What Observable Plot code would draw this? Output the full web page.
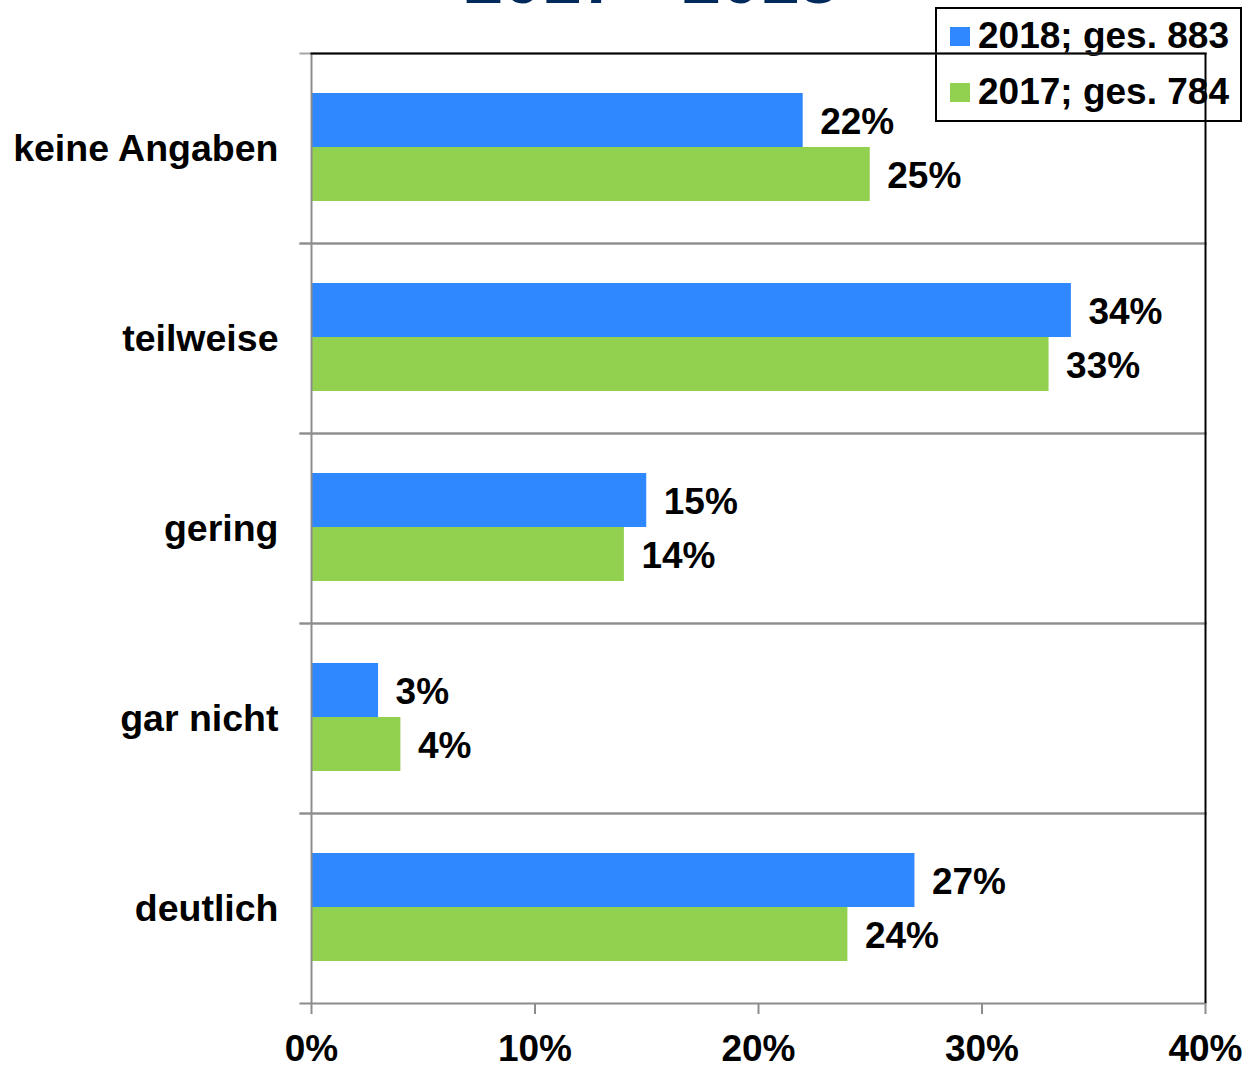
<!DOCTYPE html>
<html>
<head>
<meta charset="utf-8">
<script src="https://cdn.jsdelivr.net/npm/d3@7"></script>
<script src="https://cdn.jsdelivr.net/npm/@observablehq/plot@0.6"></script>
<style>
  html, body { margin: 0; padding: 0; background: white; overflow: hidden; }
  body { width: 1245px; height: 1065px; position: relative; font-family: "Liberation Sans", Arial, sans-serif; }
  #title { position: absolute; left: 0; width: 1302px; top: -56px; text-align: center; font-size: 70px; line-height: 70px; font-weight: bold; color: #002a5c; white-space: pre; }
  #legend { position: absolute; left: 935px; top: 7px; width: 303px; height: 111px; border: 2px solid #000; background: #fff; z-index: 0; }
  #legend .row { display: flex; align-items: center; height: 56px; }
  #legend .sw { width: 20px; height: 19px; margin-left: 13px; margin-right: 8px; }
  #legend .lab { font-size: 37px; font-weight: bold; color: #000; white-space: nowrap; }
  #chart { position: absolute; left: 0; top: 0; z-index: 1; }
</style>
</head>
<body>
<div id="title">2017 - 2018</div>
<div id="legend"></div>
<div id="chart"></div>
<script>
// ---- data ----
const categories = ["keine Angaben", "teilweise", "gering", "gar nicht", "deutlich"];
const series = ["2018", "2017"];
const seriesLabels = ["2018; ges. 883", "2017; ges. 784"];
const values2018 = [22, 34, 15, 3, 27];
const values2017 = [25, 33, 14, 4, 24];
const xTicks = [0, 10, 20, 30, 40];
const colors = ["#2f88ff", "#92d050"];

const data = [];
categories.forEach((c, i) => {
  data.push({cat: c, year: series[0], value: values2018[i]});
  data.push({cat: c, year: series[1], value: values2017[i]});
});

// ---- legend (HTML, placed behind the transparent SVG) ----
const legend = document.getElementById("legend");
const inner = document.createElement("div");
inner.style.marginTop = "-1px";
series.forEach((s, i) => {
  const row = document.createElement("div");
  row.className = "row";
  const sw = document.createElement("div");
  sw.className = "sw";
  sw.style.background = colors[i];
  const lab = document.createElement("div");
  lab.className = "lab";
  lab.textContent = seriesLabels[i];
  row.appendChild(sw);
  row.appendChild(lab);
  inner.appendChild(row);
});
legend.appendChild(inner);

// ---- chart ----
const plot = Plot.plot({
  width: 1245,
  height: 1065,
  marginLeft: 311,
  marginRight: 40,
  marginTop: 52,
  marginBottom: 61,
  style: {background: "transparent", fontFamily: "'Liberation Sans', Arial, sans-serif", color: "#000"},
  x: {domain: [0, 40], ticks: xTicks, tickFormat: d => d + "%", label: null},
  y: {domain: series, paddingInner: 0, paddingOuter: 0.74, axis: null},
  fy: {domain: categories, padding: 0, label: null},
  color: {domain: series, range: colors},
  marks: [
    Plot.frame({anchor: "top", stroke: "#a6a6a6", strokeWidth: 2, insetLeft: -11}),
    Plot.frame({anchor: "bottom", stroke: "#8c8c8c", strokeWidth: 2, insetLeft: -11}),
    Plot.barX(data, {fy: "cat", y: "year", x: "value", fill: "year", dy: -1}),
    Plot.ruleX([0], {stroke: "#8c8c8c", strokeWidth: 2}),
    Plot.ruleX([40], {stroke: "#000", strokeWidth: 2}),
    Plot.frame({anchor: "top", stroke: "#000", strokeWidth: 2, facetAnchor: "top"}),
    Plot.text(data, {
      fy: "cat", y: "year", x: "value",
      text: d => d.value + "%",
      textAnchor: "start", dx: 17, dy: 1,
      fontSize: 37, fontWeight: "bold", fill: "#000"
    }),
    Plot.axisFy({anchor: "left", tickSize: 0, tickPadding: 33, fontSize: 37.5, fontWeight: "bold", fill: "#000", label: null}),
    Plot.axisX({ticks: xTicks, tickFormat: d => d + "%", tickSize: 11, tickPadding: 20, stroke: "#8c8c8c", strokeWidth: 2, fill: "#000", fontSize: 37, fontWeight: "bold", label: null})
  ]
});
document.getElementById("chart").appendChild(plot);
</script>
</body>
</html>
